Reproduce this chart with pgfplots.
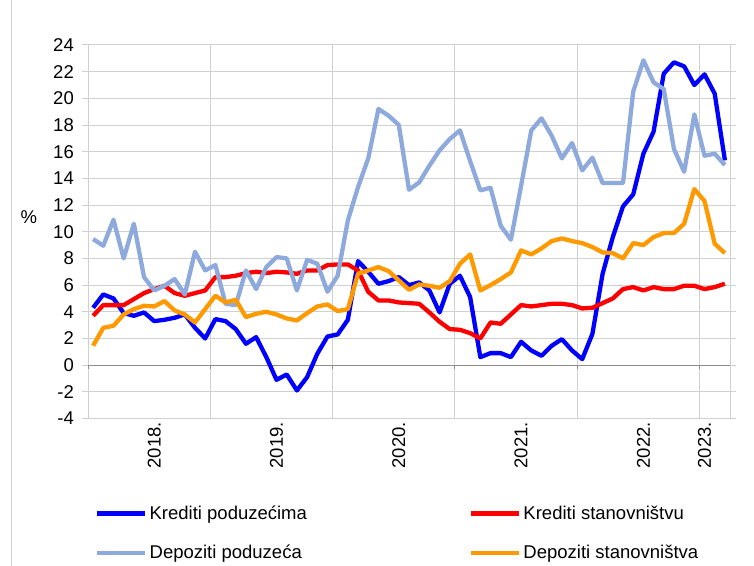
\documentclass[border=0pt]{standalone}
\usepackage{fontspec}
\setmainfont{Liberation Sans}
\usepackage{pgfplots}
\usepackage{pgfplotstable}
\pgfplotsset{compat=1.18}
\definecolor{gridgray}{HTML}{D0D0D0}
\definecolor{zerogray}{HTML}{8C8C8C}
\definecolor{sblue}{HTML}{0000FF}
\definecolor{sred}{HTML}{FF0000}
\definecolor{slblue}{HTML}{8EA9DB}
\definecolor{sorange}{HTML}{FF9900}
\pgfplotstableread{
i blue red lblue orange
0 4.3 3.7 9.45 1.45
1 5.3 4.5 8.95 2.8
2 5.0 4.5 10.9 2.95
3 3.9 4.5 8.0 3.8
4 3.7 4.95 10.6 4.2
5 3.95 5.4 6.6 4.45
6 3.3 5.7 5.6 4.4
7 3.4 5.95 5.95 4.8
8 3.55 5.4 6.45 4.1
9 3.8 5.2 5.3 3.8
10 2.8 5.4 8.5 3.2
11 2.0 5.6 7.1 4.2
12 3.45 6.6 7.5 5.2
13 3.3 6.6 4.6 4.7
14 2.7 6.7 4.5 4.9
15 1.6 6.9 7.1 3.6
16 2.1 7.0 5.7 3.85
17 0.6 6.9 7.35 4.0
18 -1.1 7.0 8.1 3.8
19 -0.7 6.95 8.0 3.5
20 -1.9 6.85 5.6 3.35
21 -0.9 7.1 7.9 3.9
22 0.85 7.1 7.6 4.4
23 2.15 7.5 5.5 4.55
24 2.3 7.55 6.7 4.05
25 3.4 7.55 10.85 4.2
26 7.8 7.1 13.35 6.85
27 7.0 5.5 15.5 7.1
28 6.1 4.85 19.2 7.35
29 6.3 4.85 18.7 7.05
30 6.6 4.7 18.0 6.35
31 6.0 4.65 13.15 5.65
32 6.2 4.6 13.7 6.05
33 5.6 3.95 14.95 5.95
34 3.95 3.25 16.1 5.8
35 6.1 2.7 16.95 6.3
36 6.7 2.65 17.6 7.6
37 5.1 2.4 15.3 8.3
38 0.6 2.0 13.1 5.6
39 0.9 3.2 13.3 6.0
40 0.9 3.1 10.45 6.45
41 0.6 3.8 9.4 6.95
42 1.75 4.5 13.45 8.6
43 1.1 4.4 17.6 8.3
44 0.7 4.5 18.5 8.75
45 1.45 4.6 17.2 9.3
46 1.95 4.6 15.5 9.5
47 1.1 4.5 16.65 9.3
48 0.45 4.25 14.6 9.15
49 2.35 4.3 15.55 8.85
50 6.85 4.65 13.65 8.45
51 9.6 5.0 13.65 8.4
52 11.9 5.7 13.65 8.0
53 12.8 5.85 20.5 9.15
54 15.85 5.6 22.85 9.0
55 17.5 5.85 21.2 9.6
56 21.85 5.7 20.7 9.9
57 22.7 5.7 16.2 9.9
58 22.4 5.95 14.5 10.6
59 21.0 5.95 18.8 13.2
60 21.8 5.7 15.7 12.3
61 20.35 5.85 15.85 9.1
62 15.35 6.1 15.0 8.4
}\data
\begin{document}
\begin{tikzpicture}
\useasboundingbox (0,0) rectangle (754bp,566bp);
\draw[gridgray, line width=1bp] (11.5bp,0) -- (11.5bp,566bp);
\begin{axis}[
  at={(88bp,147.5bp)}, anchor=south west,
  scale only axis, width=642bp, height=373.5bp,
  xmin=-0.5, xmax=62.5, ymin=-4, ymax=24,
  ytick={-4,-2,...,24},
  xtick={6,18,30,42,54,60},
  xticklabels={2018.,2019.,2020.,2021.,2022.,2023.},
  minor xtick={-0.5,11.5,23.5,35.5,47.5,59.5},
  xminorgrids=true, ymajorgrids=true, xmajorgrids=false,
  grid style={draw=gridgray, line width=1bp},
  minor grid style={draw=gridgray, line width=1bp},
  axis line style={draw=gridgray, line width=1bp},
  xtick style={draw=none},
  ytick style={draw=gridgray, line width=1bp},
  tick align=outside, major tick length=6bp,
  /pgf/number format/assume math mode=true,
  tick label style={font=\fontsize{18.5bp}{21bp}\selectfont, text=black},
  yticklabel style={anchor=east, inner sep=0pt, xshift=-8bp},
  xticklabel style={rotate=90, anchor=east, inner sep=0pt, xshift=2.5bp},
  ylabel={\%},
  every axis y label/.style={at={(axis description cs:-0.092,0.54)}, anchor=center, font=\fontsize{18.5bp}{21bp}\selectfont},
  legend columns=2,
  legend cell align=left,
  legend image code/.code={\draw[#1, line width=4.5bp] (0bp,0bp) -- (48bp,0bp);},
  legend style={at={(axis description cs:0.0062,-0.2234)}, anchor=north west,
    draw=none, fill=none, font=\fontsize{18.5bp}{21bp}\selectfont,
    /tikz/every even column/.append style={column sep=160bp},
    row sep=20bp},
  every axis plot/.append style={line width=4.3bp, line join=round, no markers},
]
\draw[zerogray, line width=1bp] (axis cs:-0.5,0) -- (axis cs:62.5,0);
\pgfplotsinvokeforeach{-0.5,11.5,23.5,35.5,47.5,59.5}{
  \draw[zerogray, line width=1bp] (axis cs:#1,0) -- ++(0bp,-4bp);
}
\addplot[sblue] table[x=i, y=blue] {\data};
\addlegendentry{Krediti poduzećima}
\addplot[sred] table[x=i, y=red] {\data};
\addlegendentry{Krediti stanovništvu}
\addplot[slblue] table[x=i, y=lblue] {\data};
\addlegendentry{Depoziti poduzeća}
\addplot[sorange] table[x=i, y=orange] {\data};
\addlegendentry{Depoziti stanovništva}
\end{axis}
\end{tikzpicture}
\end{document}
